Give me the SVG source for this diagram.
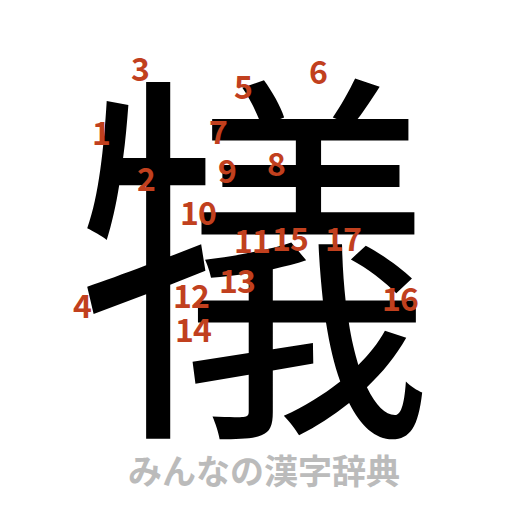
<svg xmlns="http://www.w3.org/2000/svg" width="512" height="512" viewBox="0 0 512 512">
<style>
.k{font-family:"Noto Sans CJK JP","Noto Sans CJK SC",sans-serif;font-size:390px;fill:#000;text-anchor:middle}
.n{font-family:"Noto Sans CJK JP","Noto Sans",sans-serif;font-weight:bold;font-size:32px;fill:#c1401e;text-anchor:middle;dominant-baseline:central;letter-spacing:-1px}
.f{font-family:"Noto Sans CJK JP",sans-serif;font-weight:bold;font-size:34px;fill:#bbbbbb;text-anchor:middle}
</style>
<rect width="512" height="512" fill="#fff"/>
<g id="kanji"><text class="k" x="0" y="408" transform="translate(254 0) scale(0.91 1)">犠</text></g>
<g id="numbers">
<text class="n" x="101" y="131">1</text>
<text class="n" x="146" y="177">2</text>
<text class="n" x="140" y="67">3</text>
<text class="n" x="82" y="304">4</text>
<text class="n" x="243" y="85">5</text>
<text class="n" x="318" y="70">6</text>
<text class="n" x="218" y="130">7</text>
<text class="n" x="276" y="162">8</text>
<text class="n" x="227" y="169">9</text>
<text class="n" x="198" y="211">10</text>
<text class="n" x="252" y="239">11</text>
<text class="n" x="191" y="294">12</text>
<text class="n" x="237" y="279">13</text>
<text class="n" x="193" y="328">14</text>
<text class="n" x="290" y="237">15</text>
<text class="n" x="400" y="297">16</text>
<text class="n" x="343" y="237">17</text>
</g>
<g id="footer"><text class="f" x="264" y="484">みんなの漢字辞典</text></g>
</svg>
